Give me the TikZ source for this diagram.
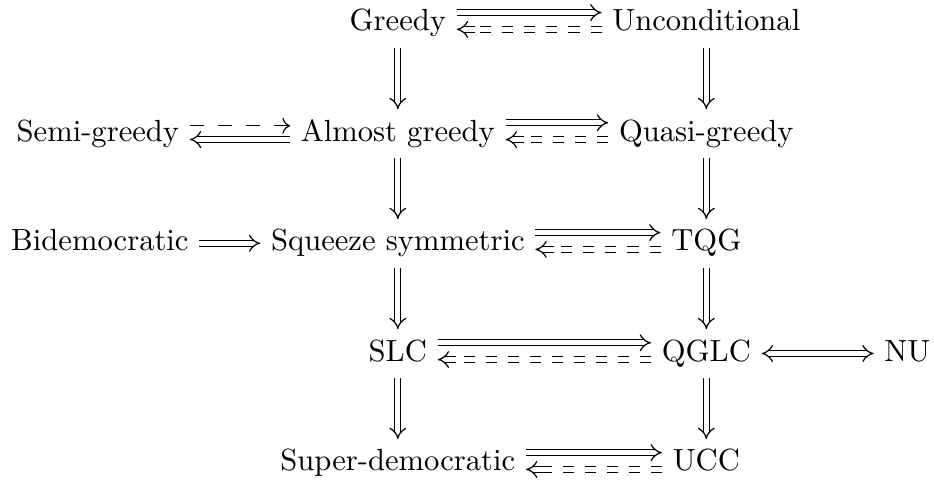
\documentclass[tikz,border=0pt]{standalone}
\usepackage{amsmath}
\usepackage{tikz}
\usetikzlibrary{positioning, arrows.meta}

\tikzset{
  prop/.style={anchor=base, text height=6.9pt, text depth=1.9pt},
  imp/.style={double, double equal sign distance, -{Implies}},
  weak/.style={double, double equal sign distance, dash pattern=on 3.6pt off 3.6pt},
  iff/.style={double, double equal sign distance, {Implies}-{Implies}},
  weakto/.style={dash pattern=on 4.6pt off 4.6pt, -{To}}
}

\begin{document}
\begin{tikzpicture}
			\useasboundingbox (0,0) rectangle (305.2pt,-158.2pt);

			% Nodes
			\node (G) [prop] at (130pt,-10.1pt) {Greedy};
			\node (U) [prop] at (230.8pt,-10.1pt) {Unconditional};
			\node (AG) [prop] at (130pt,-46.1pt) {Almost greedy};
			\node (QG) [prop] at (230.8pt,-46.1pt) {Quasi-greedy};
			\node (SG) [prop, left=32.7pt of AG] {Semi-greedy};
			\node (SS) [prop] at (130pt,-82pt) {Squeeze symmetric};
			\node (TQG) [prop] at (230.8pt,-82pt) {TQG};
			\node (BD) [prop, left=19.9pt of SS] {Bidemocratic};
			\node (SLC) [prop] at (130pt,-118pt) {SLC};
			\node (QGLC) [prop] at (230.8pt,-118pt) {QGLC};
			\node (NU) [prop, right=36.6pt of QGLC] {NU};
			\node (SD) [prop] at (130pt,-153.9pt) {Super-democratic};
			\node (UCC) [prop] at (230.8pt,-153.9pt) {UCC};

			% Edges
			\draw[imp] ([yshift=6pt]G.base east) -- ([yshift=6pt]U.base west);
			\draw[weak] ([yshift=.5pt]U.base west) -- ([yshift=.5pt,xshift=6pt]G.base east);
			\draw[imp] ([yshift=.5pt,xshift=6pt]G.base east) -- ([yshift=.5pt]G.base east);
			\draw[weakto] ([yshift=5pt]SG.base east) -- ([yshift=5pt]AG.base west);
			\draw[imp] ([yshift=.5pt]AG.base west) -- ([yshift=.5pt]SG.base east);
			\draw[imp] ([yshift=6pt]AG.base east) -- ([yshift=6pt]QG.base west);
			\draw[weak] ([yshift=.5pt]QG.base west) -- ([yshift=.5pt,xshift=6pt]AG.base east);
			\draw[imp] ([yshift=.5pt,xshift=6pt]AG.base east) -- ([yshift=.5pt]AG.base east);
			\draw[imp] (BD) -- (SS);
			\draw[imp] ([yshift=6pt]SS.base east) -- ([yshift=6pt]TQG.base west);
			\draw[weak] ([yshift=.5pt]TQG.base west) -- ([yshift=.5pt,xshift=6pt]SS.base east);
			\draw[imp] ([yshift=.5pt,xshift=6pt]SS.base east) -- ([yshift=.5pt]SS.base east);
			\draw[imp] ([yshift=6pt]SLC.base east) -- ([yshift=6pt]QGLC.base west);
			\draw[weak] ([yshift=.5pt]QGLC.base west) -- ([yshift=.5pt,xshift=6pt]SLC.base east);
			\draw[imp] ([yshift=.5pt,xshift=6pt]SLC.base east) -- ([yshift=.5pt]SLC.base east);
			\draw[iff] (QGLC) -- (NU);
			\draw[imp] ([yshift=6pt]SD.base east) -- ([yshift=6pt]UCC.base west);
			\draw[weak] ([yshift=.5pt]UCC.base west) -- ([yshift=.5pt,xshift=6pt]SD.base east);
			\draw[imp] ([yshift=.5pt,xshift=6pt]SD.base east) -- ([yshift=.5pt]SD.base east);

			\draw[imp] (G) -- (AG);
			\draw[imp] (U) -- (QG);
			\draw[imp] (AG) -- (SS);
			\draw[imp] (QG) -- (TQG);
			\draw[imp] (SS) -- (SLC);
			\draw[imp] (TQG) -- (QGLC);
			\draw[imp] (SLC) -- (SD);
			\draw[imp] (QGLC) -- (UCC);

		\end{tikzpicture}
\end{document}
